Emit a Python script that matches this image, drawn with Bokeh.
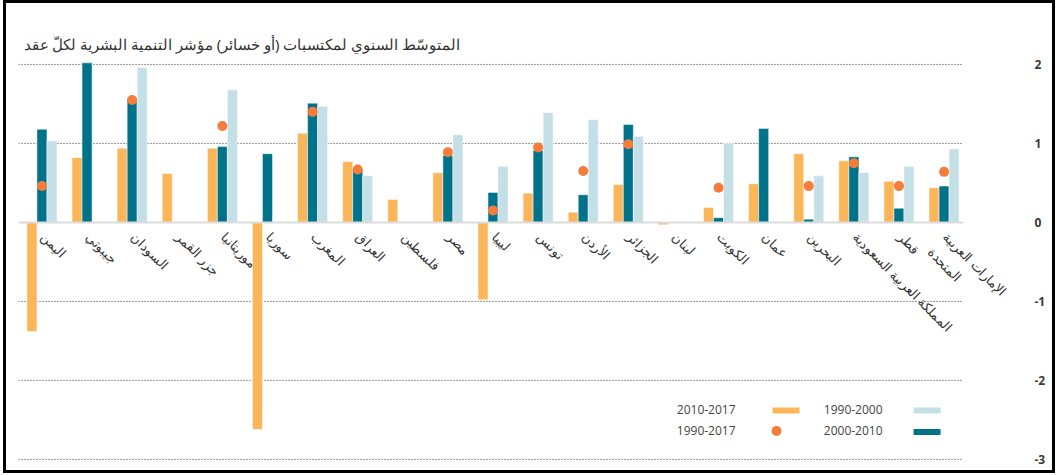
import math
import numpy as np
from bokeh.plotting import figure
from bokeh.models import Range1d, FixedTicker, Label, BoxAnnotation, ColumnDataSource
from bokeh.core.properties import value
from bokeh.embed import file_html
from bokeh.resources import INLINE

# ---------------- data ----------------
countries = ["اليمن", "جيبوتي", "السودان", "جزر القمر", "موريتانيا", "سوريا", "المغرب",
             "العراق", "فلسطين", "مصر", "ليبيا", "تونس", "الأردن", "الجزائر", "لبنان",
             "الكويت", "عمان", "البحرين", "المملكة العربية السعودية", "قطر",
             "الإمارات العربية\nالمتحدة"]
v_2010_2017 = [-1.38, 0.82, 0.94, 0.62, 0.94, -2.62, 1.13, 0.77, 0.29, 0.63, -0.98,
               0.37, 0.13, 0.48, -0.03, 0.19, 0.49, 0.87, 0.78, 0.52, 0.44]
v_2000_2010 = [1.18, 2.02, 1.57, None, 0.96, 0.87, 1.51, 0.67, None, 0.85, 0.38,
               0.91, 0.35, 1.24, None, 0.06, 1.19, 0.04, 0.83, 0.18, 0.46]
v_1990_2000 = [1.03, None, 1.96, None, 1.68, None, 1.47, 0.59, None, 1.11, 0.71,
               1.39, 1.30, 1.09, None, 1.00, None, 0.59, 0.63, 0.71, 0.93]
v_1990_2017 = [0.46, None, 1.55, None, 1.22, None, 1.40, 0.67, None, 0.89, 0.15,
               0.95, 0.65, 0.99, None, 0.44, None, 0.46, 0.75, 0.46, 0.64]
y_ticks = [-3, -2, -1, 0, 1, 2]
y_tick_labels = ["-3", "-2", "-1", "0", "1", "2"]
title_text = "المتوسّط السنوي لمكتسبات (أو خسائر) مؤشر التنمية البشرية لكلّ عقد"
legend_labels = ["2010-2017", "1990-2000", "1990-2017", "2000-2010"]

# ---------------- styles ----------------
C_ORANGE = "#fcb65a"
C_TEAL = "#00728a"
C_LIGHT = "#c5dfe7"
C_DOT = "#f47d3c"
TEXT = "#333333"
BAR_W = 0.222
GRID_END = 20.43
X0 = -0.52


def series_source(vals, offset):
    xs, ys = [], []
    for i, v in enumerate(vals):
        if v is not None:
            xs.append(i + offset)
            ys.append(v)
    return ColumnDataSource(dict(x=xs, y=ys))


p = figure(width=1046, height=467, output_backend="svg", toolbar_location=None,
           x_range=Range1d(X0, 21.65), y_range=Range1d(-3.09, 2.05),
           x_axis_location=None, y_axis_location="right",
           min_border_left=12, min_border_right=34, min_border_top=57, min_border_bottom=4)
p.outline_line_color = None
p.background_fill_color = "white"
p.border_fill_color = "white"
p.grid.visible = False
p.styles = {"margin-left": "6px", "margin-top": "3px", "outline": "3px solid black"}

# title
p.title.text = title_text
p.title.align = "left"
p.title.offset = 5
p.title.text_font = "Noto Sans"
p.title.text_font_size = "14.8px"
p.title.text_font_style = "normal"
p.title.text_color = TEXT
p.title.standoff = 13

# y axis on the right
ax = p.yaxis[0]
ax.ticker = FixedTicker(ticks=y_ticks)
ax.major_label_overrides = dict(zip(y_ticks, y_tick_labels))
ax.axis_line_color = None
ax.major_tick_line_color = None
ax.minor_tick_line_color = None
ax.major_label_standoff = 10
ax.major_label_text_font = "Open Sans"
ax.major_label_text_font_size = "12px"
ax.major_label_text_font_style = "bold"
ax.major_label_text_color = "#3a3a3a"

# dotted gridlines
g = [t for t in y_ticks if t != 0]
p.segment(x0=[X0] * len(g), x1=[GRID_END] * len(g), y0=g, y1=g,
          line_color="#333333", line_width=1, line_dash="1 2")

# bars
idx = np.arange(len(countries))
p.vbar(x="x", top="y", bottom=0, width=BAR_W, source=series_source(v_2010_2017, -BAR_W),
       fill_color=C_ORANGE, line_color="white", line_alpha=0.6, line_width=0.8)
p.vbar(x="x", top="y", bottom=0, width=BAR_W, source=series_source(v_2000_2010, 0),
       fill_color=C_TEAL, line_color="white", line_alpha=0.6, line_width=0.8)
p.vbar(x="x", top="y", bottom=0, width=BAR_W, source=series_source(v_1990_2000, BAR_W),
       fill_color=C_LIGHT, line_color="white", line_alpha=0.6, line_width=0.8)

# zero line
p.segment(x0=[X0], x1=[GRID_END], y0=[0], y1=[0], line_color="#dcdcdc", line_width=2)

# dots
p.scatter(x="x", y="y", source=series_source(v_1990_2017, 0), size=10,
          fill_color=C_DOT, line_color=None)

# category labels
p.text(x=idx + 0.17, y=[-0.07] * len(idx), text=countries, angle=-math.pi / 4,
       text_align="left", text_baseline="top", text_font=value("Noto Sans"),
       text_font_size="13px", text_color=TEXT)

# legend (right-to-left: label then swatch)
def lx(px):
    return (px - 41.5) / 45.1


def ly(py):
    return (222 - py) / 79.0


for txt, (px, py) in zip(legend_labels, [(735, 409), (882, 409), (735, 430), (882, 430)]):
    p.add_layout(Label(x=lx(px), y=ly(py), text=txt, text_align="right",
                       text_baseline="middle", text_font="Open Sans",
                       text_font_size="12px", text_color="#444444"))
p.add_layout(BoxAnnotation(left=lx(772), right=lx(799), top=ly(407), bottom=ly(413),
                           fill_color=C_ORANGE, fill_alpha=1, line_color=None))
p.add_layout(BoxAnnotation(left=lx(913), right=lx(940), top=ly(407), bottom=ly(413),
                           fill_color=C_LIGHT, fill_alpha=1, line_color=None))
p.add_layout(BoxAnnotation(left=lx(913), right=lx(940), top=ly(428.5), bottom=ly(434.5),
                           fill_color=C_TEAL, fill_alpha=1, line_color=None))
p.scatter(x=[lx(776)], y=[ly(430.5)], size=10, fill_color=C_DOT, line_color=None)

open("out.html", "w").write(file_html(p, INLINE))
